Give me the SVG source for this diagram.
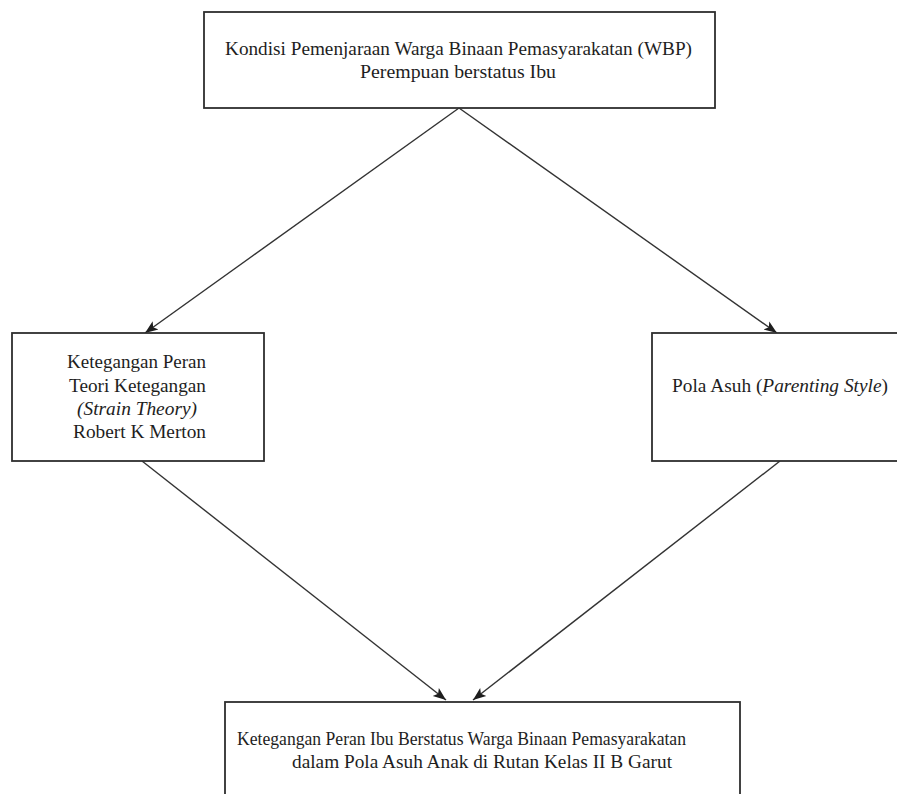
<svg xmlns="http://www.w3.org/2000/svg" width="897" height="794" viewBox="0 0 897 794">
  <style>
    .box { fill: #ffffff; stroke: #2e2e2e; stroke-width: 1.8; }
    .lbl { font-family: "Liberation Serif", "Times New Roman", serif; font-size: 18.5px; fill: #1e1e1e; }
    .it { font-style: italic; }
    .edge { fill: none; stroke: #333333; stroke-width: 1.4; }
  </style>
  <defs>
    <marker id="arrow" markerUnits="userSpaceOnUse" markerWidth="14" markerHeight="12" refX="13" refY="6" orient="auto">
      <path d="M0,1 L13,6 L0,11 L3,6 Z" fill="#1e1e1e"/>
    </marker>
  </defs>
  <rect width="897" height="794" fill="#ffffff"/>

  <g id="connectors">
    <line class="edge" x1="459" y1="108" x2="145" y2="333" marker-end="url(#arrow)"/>
    <line class="edge" x1="459" y1="108" x2="777" y2="333" marker-end="url(#arrow)"/>
    <line class="edge" x1="142" y1="461" x2="446" y2="700" marker-end="url(#arrow)"/>
    <line class="edge" x1="780" y1="461" x2="473" y2="700" marker-end="url(#arrow)"/>
  </g>

  <g id="node-kondisi">
    <rect class="box" x="204" y="12" width="511" height="96"/>
    <text class="lbl" x="225" y="55" textLength="467" lengthAdjust="spacingAndGlyphs">Kondisi Pemenjaraan Warga Binaan Pemasyarakatan (WBP)</text>
    <text class="lbl" x="360" y="78" textLength="196" lengthAdjust="spacingAndGlyphs">Perempuan berstatus Ibu</text>
  </g>

  <g id="node-ketegangan">
    <rect class="box" x="12" y="333" width="252" height="128"/>
    <text class="lbl" x="67" y="368" textLength="139" lengthAdjust="spacingAndGlyphs">Ketegangan Peran</text>
    <text class="lbl" x="69" y="392" textLength="137" lengthAdjust="spacingAndGlyphs">Teori Ketegangan</text>
    <text class="lbl it" x="77" y="415" textLength="120" lengthAdjust="spacingAndGlyphs">(Strain Theory)</text>
    <text class="lbl" x="73" y="438" textLength="133" lengthAdjust="spacingAndGlyphs">Robert K Merton</text>
  </g>

  <g id="node-polaasuh">
    <rect class="box" x="652" y="333" width="260" height="128"/>
    <text class="lbl" x="672" y="392" textLength="216" lengthAdjust="spacingAndGlyphs">Pola Asuh (<tspan class="it">Parenting Style</tspan>)</text>
  </g>

  <g id="node-hasil">
    <rect class="box" x="225" y="702" width="515" height="130"/>
    <text class="lbl" x="237" y="745" textLength="449" lengthAdjust="spacingAndGlyphs">Ketegangan Peran Ibu Berstatus Warga Binaan Pemasyarakatan</text>
    <text class="lbl" x="292" y="768" textLength="380" lengthAdjust="spacingAndGlyphs">dalam Pola Asuh Anak di Rutan Kelas II B Garut</text>
  </g>
</svg>
